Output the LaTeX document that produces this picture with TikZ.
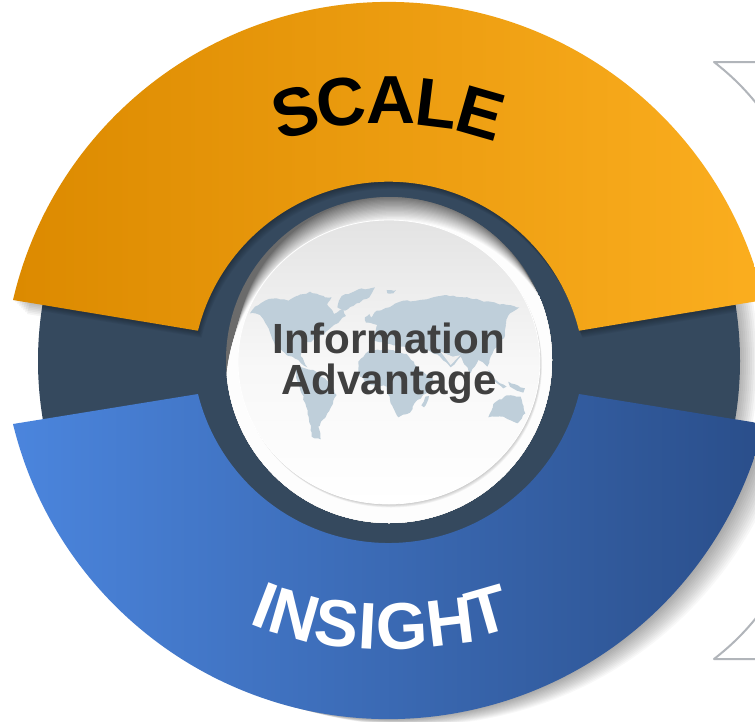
\documentclass[tikz,border=0pt]{standalone}
\usepackage{fontspec}
\usetikzlibrary{decorations.pathmorphing}
\setmainfont{Liberation Sans}
\definecolor{ringdark}{HTML}{35495E}
\definecolor{orL}{HTML}{DC8A00}
\definecolor{orR}{HTML}{FBAE1F}
\definecolor{blL}{HTML}{4B85DD}
\definecolor{blR}{HTML}{2A4E8A}
\definecolor{mapc}{HTML}{BFCFDA}
\definecolor{brk}{HTML}{B1B5BA}
\definecolor{txtc}{HTML}{404040}
\def\orangepath{(13,300) arc[start angle=-166.87,end angle=-13.13,radius=385.6] -- (579,330.7) arc[start angle=-13.95,end angle=-166.05,radius=196.3] -- cycle}
\def\bluepath{(13,424) arc[start angle=166.31,end angle=13.69,radius=386.5] -- (579,394) arc[start angle=13.95,end angle=166.05,radius=196.3] -- cycle}
\tikzset{
  scaletxt/.style={font=\fontsize{68}{68}\selectfont\bfseries,text=black,inner sep=0pt},
  insighttxt/.style={font=\fontsize{66}{66}\selectfont\bfseries,text=white,inner sep=0pt},
  centertxt/.style={font=\fontsize{42.2}{42.2}\selectfont\bfseries,text=txtc,inner sep=0pt,anchor=base},
  land/.style={fill=mapc,draw=none,decorate,decoration={random steps,segment length=3.5pt,amplitude=0.9pt}},
  bracketline/.style={draw=brk,line width=2pt,line cap=round,line join=round},
}
\begin{document}
\begin{tikzpicture}[x=1pt,y=-1pt]
\pgfmathsetseed{7}
\useasboundingbox (0,0) rectangle (755,721);
\clip (0,0) rectangle (755,721);
\fill[white] (0,0) rectangle (755,721);
% grey marks on the right edge
\draw[bracketline] (800,62) -- (714,62) .. controls (732,76) and (746,90) .. (760,108);
\draw[bracketline] (800,659) -- (714,659) .. controls (732,645) and (746,631) .. (760,613);
% soft shadows on the white ground
\begin{scope}
\clip (0,296) rectangle (755,430);
\foreach \s in {2,4,...,18}{\fill[black,opacity=0.035] (389+\s,361) circle[radius=351];}
\end{scope}
\begin{scope}
\clip (0,290) rectangle (60,340);
\foreach \s in {2,4,...,14}{\fill[black,opacity=0.04,shift={(\s,\s)}] \orangepath;}
\end{scope}
\foreach \s in {2,4,...,26}{\fill[black,opacity=0.028,shift={(\s,0.25*\s)}] \bluepath;}
% dark ring
\fill[ringdark] (389,361) circle[radius=351];
% shadow of the orange band on the ring
\begin{scope}
\clip (389,361) circle[radius=351];
\foreach \s in {1,2,...,7}{\fill[black,opacity=0.045,shift={(0.5*\s,\s)}] \orangepath;}
\end{scope}
% bands
\path[left color=orL,right color=orR] \orangepath;
\path[left color=blL,right color=blR] \bluepath;
% centre bezel and disc
\begin{scope}
\clip (389,360) circle[radius=163];
\fill[white!42!black] (200,190) rectangle (580,530);
\foreach \k in {0,1,...,19}{
  \pgfmathsetmacro{\shade}{46+\k*2.8}
  \pgfmathsetmacro{\rr}{156+\k*0.8}
  \pgfmathsetmacro{\topy}{197+\k*1.25}
  \fill[white!\shade!black] (392+0.25*\k,\topy+\rr) circle[radius=\rr];
}
\end{scope}
\foreach \s in {1,2,...,5}{\fill[black,opacity=0.045] (389+0.4*\s,362+0.7*\s) ellipse[x radius=151,y radius=142];}
\shade[top color=white!89!black,bottom color=white,middle color=white!97!black] (389,362) ellipse[x radius=151,y radius=142];
\draw[white,line width=0.8pt] (389,362) ellipse[x radius=151,y radius=142];
% world map (traced, 3x zoom coordinates)
\begin{scope}[shift={(230,210)},x=0.3333pt,y=-0.3333pt]
\fill[land] (60,310) -- (75,290) -- (105,272) -- (140,265) -- (175,272) -- (200,258) -- (250,250) -- (285,262) -- (305,262) -- (292,285) -- (312,312) -- (340,298) -- (348,318) -- (312,345) -- (288,365) -- (262,385) -- (228,400) -- (212,438) -- (232,472) -- (205,450) -- (170,435) -- (135,405) -- (110,345) -- (90,315) -- cycle;
\fill[land] (322,292) -- (335,258) -- (385,238) -- (435,232) -- (418,262) -- (380,280) -- (345,302) -- cycle;
\fill[land] (195,470) -- (250,480) -- (300,520) -- (320,555) -- (292,610) -- (265,650) -- (272,688) -- (245,680) -- (236,620) -- (226,580) -- (205,525) -- cycle;
\fill[land] (385,455) -- (420,420) -- (480,420) -- (530,432) -- (570,482) -- (610,510) -- (590,550) -- (562,570) -- (540,608) -- (505,622) -- (482,580) -- (470,530) -- (412,522) -- (385,490) -- cycle;
\fill[land] (412,335) -- (440,302) -- (478,292) -- (510,275) -- (560,272) -- (640,256) -- (720,265) -- (800,280) -- (868,292) -- (840,310) -- (822,352) -- (808,392) -- (782,440) -- (772,470) -- (745,450) -- (722,490) -- (692,440) -- (662,472) -- (630,440) -- (592,420) -- (560,422) -- (522,410) -- (480,402) -- (430,392) -- (442,345) -- cycle;
\fill[land] (775,622) -- (790,582) -- (830,556) -- (872,560) -- (886,610) -- (862,640) -- (820,620) -- cycle;
\fill[land] (586,560) -- (597,558) -- (582,592) -- (574,586) -- cycle;
\fill[land] (405,322) -- (418,312) -- (424,338) -- (408,338) -- cycle;
\fill[land] (775,480) -- (800,512) -- (830,530) -- (820,535) -- (785,510) -- cycle;
\fill[land] (835,515) -- (885,535) -- (880,548) -- (840,530) -- cycle;
\fill[land] (200,260) -- (240,245) -- (262,258) -- (225,280) -- cycle;
\fill[land] (470,240) -- (498,240) -- (490,250) -- (472,250) -- cycle;
\fill[land] (810,355) -- (828,345) -- (822,385) -- (808,395) -- cycle;
\fill[white!94!black] (632,425) -- (668,440) -- (690,436) -- (662,465) -- cycle;
\end{scope}
% labels
\node[centertxt] (tinfo) at (389,353) {Information};
\node[centertxt] (tadv) at (389,394) {Advantage};
\node[scaletxt,rotate=15] (s1) at (295,112) {S};
\node[scaletxt,rotate=7] (s2) at (341,102) {C};
\node[scaletxt,rotate=0] (s3) at (391,100) {A};
\node[scaletxt,rotate=-7] (s4) at (437,104) {L};
\node[scaletxt,rotate=-16] (s5) at (481,113) {E};
\node[insighttxt,rotate=-21] (i1) at (265,606) {I};
\node[insighttxt,rotate=-16] (i2) at (295,615) {N};
\node[insighttxt,rotate=-7] (i3) at (337,624) {S};
\node[insighttxt,rotate=-3] (i4) at (368,626) {I};
\node[insighttxt,rotate=3] (i5) at (402,626) {G};
\node[insighttxt,rotate=7] (i6) at (450,622) {H};
\node[insighttxt,rotate=16] (i7) at (488,611) {T};
\end{tikzpicture}
\end{document}
